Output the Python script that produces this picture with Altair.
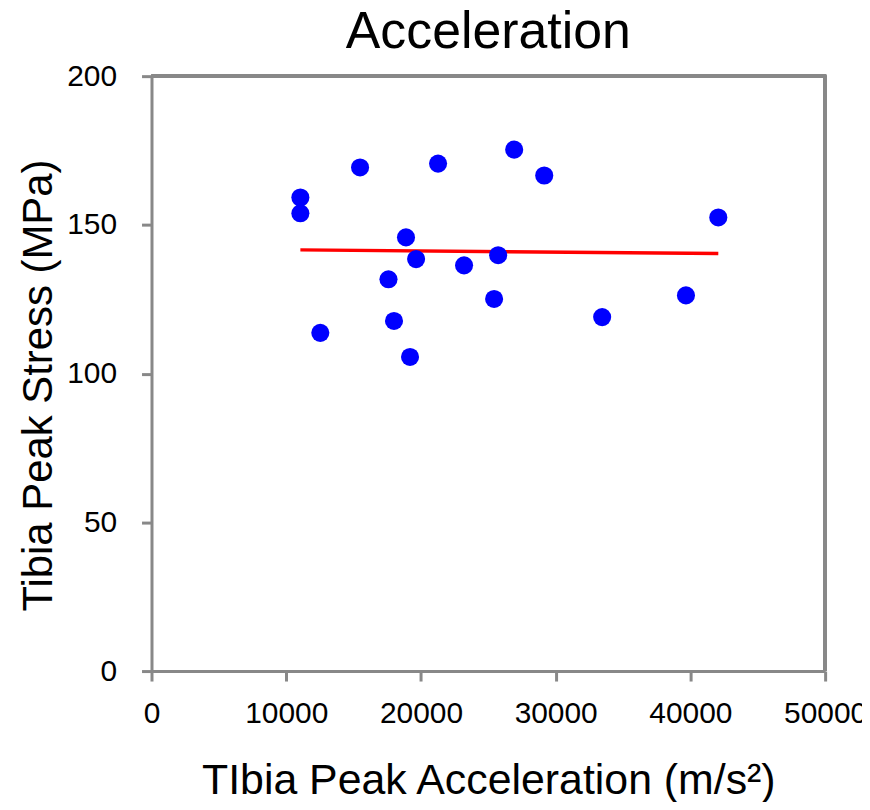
import altair as alt
import pandas as pd

# Scatter data: tibia peak acceleration (m/s^2) vs tibia peak stress (MPa)
accel = [11050, 11050, 12530, 15480, 17590, 18000, 18890, 19190, 19640,
         21270, 23200, 25430, 25730, 26920, 29150, 33450, 39670, 42070]
stress = [159.2, 153.9, 113.7, 169.3, 131.7, 117.7, 145.8, 105.6, 138.5,
          170.6, 136.4, 125.1, 139.8, 175.3, 166.6, 119.0, 126.3, 152.5]

# Linear trend line end points
trend_x = [11050, 42070]
trend_y = [141.6, 140.4]

pts = pd.DataFrame({"accel": accel, "stress": stress})
trend = pd.DataFrame({"accel": trend_x, "stress": trend_y})

FONT = "Liberation Sans"
W, H = 676, 597
FRAME = "#888888"

x_scale = alt.Scale(domain=[0, 50000], nice=False, zero=False)
y_scale = alt.Scale(domain=[0, 200], nice=False, zero=False)

x_axis = alt.Axis(
    title="TIbia Peak Acceleration (m/s²)",
    values=[0, 10000, 20000, 30000, 40000, 50000],
    format="d",
    grid=False,
    domainColor=FRAME, domainWidth=3,
    tickColor=FRAME, tickWidth=3, tickSize=10,
    labelFont=FONT, labelFontSize=30, labelColor="black",
    labelPadding=18, labelFlush=False, labelOverlap=False,
    titleFont=FONT, titleFontSize=43, titleFontWeight="normal",
    titleColor="black", titlePadding=31,
)
y_axis = alt.Axis(
    title="Tibia Peak Stress (MPa)",
    values=[0, 50, 100, 150, 200],
    grid=False,
    domainColor=FRAME, domainWidth=3,
    tickColor=FRAME, tickWidth=3, tickSize=10,
    labelFont=FONT, labelFontSize=30, labelColor="black",
    labelPadding=25, labelFlush=False, labelOverlap=False,
    titleFont=FONT, titleFontSize=42, titleFontWeight="normal",
    titleColor="black", titlePadding=6, titleY=310,
)

# frame: top and right border of the plot area
top_rule = alt.Chart(pts).mark_rule(color=FRAME, strokeWidth=3).encode(
    x=alt.value(0), x2=alt.value(W + 1), y=alt.value(0)
)
right_rule = alt.Chart(pts).mark_rule(color=FRAME, strokeWidth=3).encode(
    x=alt.value(W), y=alt.value(0), y2=alt.value(H)
)

points = alt.Chart(pts).mark_circle(color="#0000FF", opacity=1, size=330).encode(
    x=alt.X("accel:Q", scale=x_scale, axis=x_axis),
    y=alt.Y("stress:Q", scale=y_scale, axis=y_axis),
)

line = alt.Chart(trend).mark_line(color="#FF0000", strokeWidth=3.5).encode(
    x=alt.X("accel:Q", scale=x_scale),
    y=alt.Y("stress:Q", scale=y_scale),
)

chart = (
    alt.layer(top_rule, right_rule, line, points)
    .properties(
        width=W,
        height=H,
        title=alt.TitleParams(
            "Acceleration", font=FONT, fontSize=52, fontWeight="normal",
            color="black", anchor="middle", offset=2,
        ),
        autosize=alt.AutoSizeParams(type="none"),
        padding={"left": 144, "top": 67, "right": 37, "bottom": 130},
    )
    .configure_view(stroke=None)
    .configure(background="white")
)

chart.save("out.html", embed_options={"renderer": "svg", "actions": False})
